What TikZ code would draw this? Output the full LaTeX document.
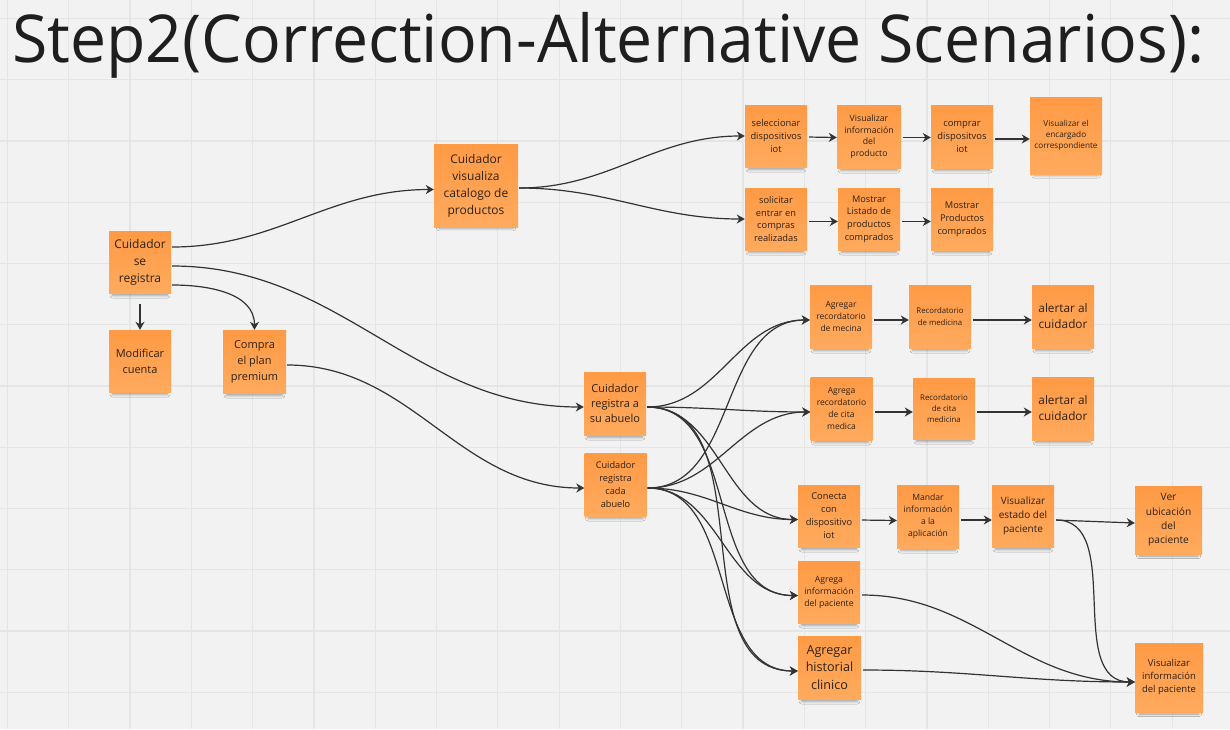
\documentclass[tikz,border=0pt]{standalone}
\usepackage{fontspec}
\setmainfont{Open Sans}
\usetikzlibrary{arrows.meta,shadows.blur}
\definecolor{bg}{HTML}{F2F2F2}
\definecolor{gridc}{HTML}{E5E5E5}
\definecolor{stA}{HTML}{FF9A45}
\definecolor{stB}{HTML}{FFAA5E}
\definecolor{txt}{HTML}{2B2218}
\definecolor{titlec}{HTML}{1E1E1E}
\definecolor{edgec}{HTML}{333333}
\newcommand\nfs[2]{\fontsize{#1}{#2}\selectfont}
\tikzset{
  note/.style={rectangle, align=center, inner sep=0pt, text=txt, top color=stA, bottom color=stB,
    blur shadow={shadow xshift=0pt, shadow yshift=-7pt, shadow blur radius=3pt, shadow opacity=35, shadow scale=0.88}},
  edge/.style={draw=edgec, line width=1.2pt, -{Stealth[length=8pt,width=9pt,inset=2.5pt]}, shorten <=1pt},
  gridline/.style={draw=gridc, line width=1.2pt},
}
\begin{document}
\begin{tikzpicture}[x=1pt,y=-1pt]
\fill[bg] (0,0) rectangle (1230,729);
\useasboundingbox (0,0) rectangle (1230,729);
\foreach \i in {0,...,19} \draw[gridline] ({7.4+61.3*\i},0) -- ({7.4+61.3*\i},729);
\foreach \j in {0,...,11} \draw[gridline] (0,{18.5+61.25*\j}) -- (1230,{18.5+61.25*\j});

\node[anchor=base west, inner sep=0pt, text=titlec] (title) at (12,62)
  {\resizebox{1192pt}{\height}{\nfs{66}{70}Step2(Correction-Alternative Scenarios):}};

% left part
\node[note, minimum width=62, minimum height=62, font=\nfs{12}{17}] (R) at (140,262) {Cuidador\\se\\registra};
\node[note, minimum width=62, minimum height=62, font=\nfs{11}{16}] (M) at (140,361) {Modificar\\cuenta};
\node[note, minimum width=63, minimum height=63, font=\nfs{11}{16}] (P) at (254.5,361.5) {Compra\\el plan\\premium};
\node[note, minimum width=84, minimum height=83, font=\nfs{12}{17}] (C) at (476,185.5) {Cuidador\\visualiza\\catalogo de\\productos};

% top rows
\node[note, minimum width=62, minimum height=62, font=\nfs{9.3}{13}] (S1) at (776,136) {seleccionar\\dispositivos\\iot};
\node[note, minimum width=64, minimum height=63, font=\nfs{8.7}{11.5}] (S2) at (869,136.5) {Visualizar\\información\\del\\producto};
\node[note, minimum width=62, minimum height=63, font=\nfs{9.4}{13}] (S3) at (962,136.5) {comprar\\dispositvos\\iot};
\node[note, minimum width=72, minimum height=77, font=\nfs{8.2}{11}] (S4) at (1066,135.5) {Visualizar el\\encargado\\correspondiente};
\node[note, minimum width=62, minimum height=62, font=\nfs{9.3}{12.7}] (T1) at (776,219) {solicitar\\entrar en\\compras\\realizadas};
\node[note, minimum width=62, minimum height=62, font=\nfs{9.2}{12.7}] (T2) at (869,219) {Mostrar\\Listado de\\productos\\comprados};
\node[note, minimum width=62, minimum height=62, font=\nfs{9.3}{13}] (T3) at (962,219) {Mostrar\\Productos\\comprados};

% middle
\node[note, minimum width=62, minimum height=63, font=\nfs{11}{15}] (A) at (615,403.5) {Cuidador\\registra a\\su abuelo};
\node[note, minimum width=62, minimum height=63, font=\nfs{9.2}{12.7}] (B) at (615.5,484.5) {Cuidador\\registra\\cada\\abuelo};

\node[note, minimum width=62, minimum height=63, font=\nfs{8.5}{12}] (G1) at (841,316.5) {Agregar\\recordatorio\\de mecina};
\node[note, minimum width=62, minimum height=63, font=\nfs{7.8}{11.5}] (G2) at (940,316.5) {Recordatorio\\de medicina};
\node[note, minimum width=62, minimum height=63, font=\nfs{11.8}{16}] (G3) at (1063,316.5) {alertar al\\cuidador};
\node[note, minimum width=62, minimum height=63, font=\nfs{8.5}{12}] (H1) at (841.5,408.5) {Agrega\\recordatorio\\de cita\\medica};
\node[note, minimum width=62, minimum height=61, font=\nfs{7.9}{11}] (H2) at (944,408.5) {Recordatorio\\de cita\\medicina};
\node[note, minimum width=62, minimum height=63, font=\nfs{11.8}{16}] (H3) at (1063,408.5) {alertar al\\cuidador};

\node[note, minimum width=62, minimum height=62, font=\nfs{9.3}{13}] (K1) at (829,516) {Conecta\\con\\dispositivo\\iot};
\node[note, minimum width=62, minimum height=63, font=\nfs{8.6}{12}] (K2) at (928,516.5) {Mandar\\información\\a la\\aplicación};
\node[note, minimum width=62, minimum height=62, font=\nfs{10}{14}] (K3) at (1023,516) {Visualizar\\estado del\\paciente};
\node[note, minimum width=67, minimum height=68, font=\nfs{10.2}{14.3}] (K4) at (1168.5,520) {Ver\\ubicación\\del\\paciente};
\node[note, minimum width=62, minimum height=62, font=\nfs{8.7}{12}] (L1) at (829,592) {Agrega\\información\\del paciente};
\node[note, minimum width=63, minimum height=63, font=\nfs{12.6}{17.5}] (L2) at (829.5,667.5) {Agregar\\historial\\clinico};
\node[note, minimum width=68, minimum height=69, font=\nfs{9.5}{13}] (V) at (1169,677.5) {Visualizar\\información\\del paciente};

% edges from R
\draw[edge] ([yshift=15pt]R.east) to[out=0,in=180] ([yshift=-4pt]C.west);
\draw[edge] ([yshift=-4pt]R.east) to[out=0,in=180] ([yshift=-3.5pt]A.west);
\draw[edge] ([yshift=-23pt]R.east) to[out=0,in=90] (P.north);
\draw[edge] ([yshift=-10pt]R.south) -- (M.north);
\draw[edge] ([yshift=-3.5pt]P.east) to[out=0,in=180] ([yshift=-3.5pt]B.west);

% catalog
\draw[edge] ([yshift=-2.5pt]C.east) to[out=0,in=180] (S1.west);
\draw[edge] ([yshift=-2.5pt]C.east) to[out=0,in=180] (T1.west);
\draw[edge, shorten <=2pt] ([yshift=-1pt]S1.east) -- ([yshift=-1pt]S2.west);
\draw[edge, shorten <=2pt] ([yshift=-1pt]S2.east) -- ([yshift=-1pt]S3.west);
\draw[edge, shorten <=2pt] ([yshift=-2.5pt]S3.east) -- ([yshift=-3.5pt]S4.west);
\draw[edge, shorten <=2pt] ([yshift=-2.5pt]T1.east) -- ([yshift=-2.5pt]T2.west);
\draw[edge, shorten <=2pt] ([yshift=-2.5pt]T2.east) -- ([yshift=-2.5pt]T3.west);

% from A and B
\foreach \s in {A,B}{
  \foreach \t in {G1,H1,K1,L1,L2}{
    \draw[edge] ([yshift=-3.5pt]\s.east) to[out=0,in=180] ([yshift=-3.5pt]\t.west);
  }
}

% chains
\draw[edge, shorten <=2pt] ([yshift=-3.5pt]G1.east) -- ([yshift=-3.5pt]G2.west);
\draw[edge, shorten <=2pt] ([yshift=-3.5pt]G2.east) -- ([yshift=-3.5pt]G3.west);
\draw[edge, shorten <=2pt] ([yshift=-3.5pt]H1.east) -- ([yshift=-3.5pt]H2.west);
\draw[edge, shorten <=2pt] ([yshift=-3.5pt]H2.east) -- ([yshift=-3.5pt]H3.west);
\draw[edge, shorten <=2pt] ([yshift=-4pt]K1.east) -- ([yshift=-4pt]K2.west);
\draw[edge, shorten <=2pt] ([yshift=-3.5pt]K2.east) -- ([yshift=-4pt]K3.west);
\draw[edge, shorten <=2pt] ([yshift=-4pt]K3.east) -- ([yshift=-3pt]K4.west);
\draw[edge, shorten <=2pt] ([yshift=-4pt]K3.east) to[out=0,in=180] ([yshift=-4.5pt]V.west);
\draw[edge, shorten <=2pt] ([yshift=-3pt]L1.east) to[out=0,in=180] ([yshift=-4.5pt]V.west);
\draw[edge, shorten <=2pt] ([yshift=-2.5pt]L2.east) to[out=0,in=180] ([yshift=-4.5pt]V.west);
\end{tikzpicture}
\end{document}
